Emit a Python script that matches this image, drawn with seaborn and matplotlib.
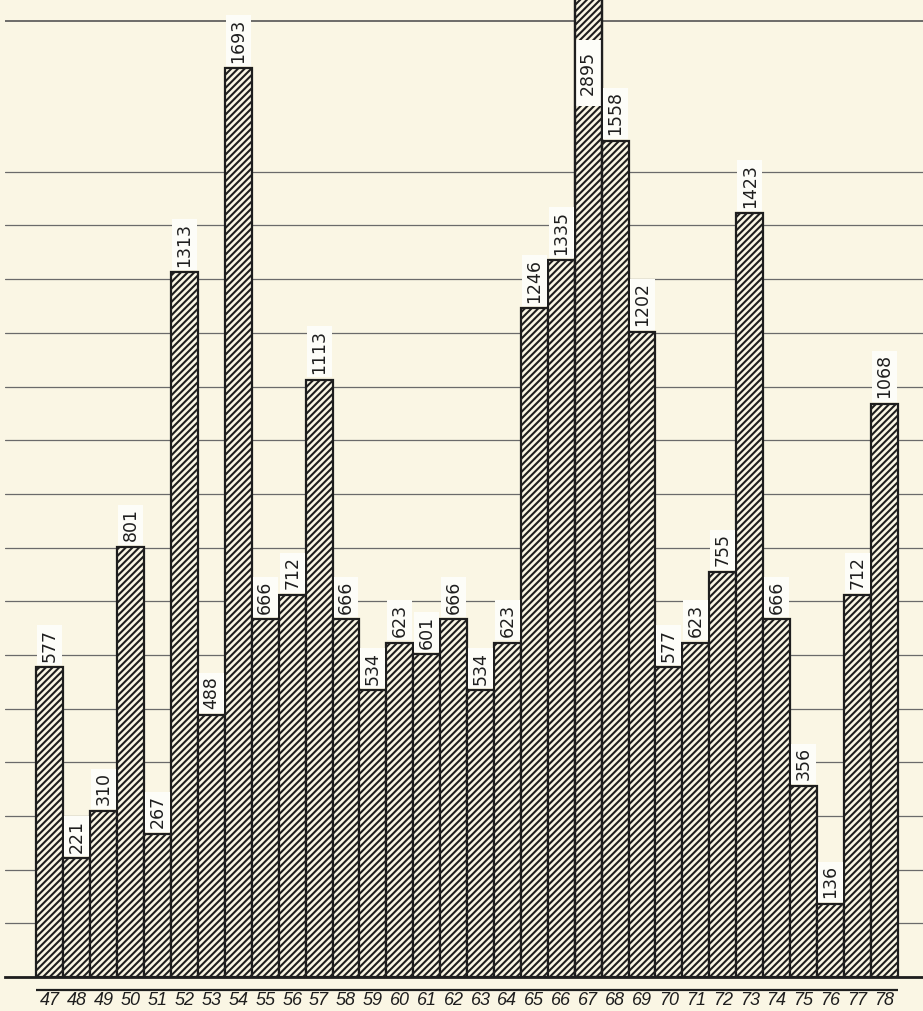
import numpy as np
import matplotlib.pyplot as plt
import seaborn as sns

# years (19xx) and yearly counts
years = ['47', '48', '49', '50', '51', '52', '53', '54', '55', '56', '57',
         '58', '59', '60', '61', '62', '63', '64', '65', '66', '67', '68',
         '69', '70', '71', '72', '73', '74', '75', '76', '77', '78']
counts = [577, 221, 310, 801, 267, 1313, 488, 1693, 666, 712, 1113,
          666, 534, 623, 601, 666, 534, 623, 1246, 1335, 2895, 1558,
          1202, 577, 623, 755, 1423, 666, 356, 136, 712, 1068]

paper = '#faf6e4'
ink = '#1e1e1e'

sns.set_theme(style='white')
plt.rcParams['font.family'] = ['DejaVu Sans']
plt.rcParams['hatch.linewidth'] = 1.5

fig = plt.figure(figsize=(9.23, 10.11), dpi=100, facecolor=paper)
ax = fig.add_axes([5 / 923, 34 / 1011, 918 / 923, 977 / 1011])
ax.set_facecolor(paper)

sns.barplot(x=years, y=counts, ax=ax, width=1.0, color=paper, saturation=1,
            edgecolor=ink, linewidth=1.6, hatch='/////', zorder=2)

ax.set_xlim(-1.67, 32.44)
ax.set_ylim(0, 1820)

# ruled lines every 100, plus the top rule
ax.set_yticks(np.arange(0, 1600, 100))
ax.set_yticklabels([])
ax.yaxis.grid(True, color='#6a6a6a', lw=0.9)
ax.xaxis.grid(False)
ax.set_axisbelow(True)
ax.axhline(1781, color='#555555', lw=1.2, zorder=1)

for s in ['top', 'left', 'right']:
    ax.spines[s].set_visible(False)
ax.spines['bottom'].set_color(ink)
ax.spines['bottom'].set_linewidth(2)

# value labels
top = ax.get_ylim()[1]
for i, v in enumerate(counts):
    if v < top:
        ax.annotate(str(v), (i, v), xytext=(0, 4), textcoords='offset points',
                    rotation=90, ha='center', va='bottom', fontsize=12.5,
                    color=ink, zorder=5,
                    bbox=dict(boxstyle='square,pad=0.2', fc='#fdfdf8', ec='none'))
    else:
        # broken bar: white gap with the label inside
        gap_lo, gap_hi = 1623, 1746
        ax.bar(i, gap_hi - gap_lo, bottom=gap_lo, width=1.0, color='#fdfdf8',
               edgecolor='none', zorder=3)
        ax.bar(i, v, width=1.0, fill=False, edgecolor=ink, linewidth=1.6, zorder=4)
        ax.text(i, (gap_lo + gap_hi) / 2, str(v), rotation=90, ha='center',
                va='center', fontsize=12.5, color=ink, zorder=5)

# second rule under the baseline
ax.hlines(-24, -0.5, len(years) - 0.5, colors=ink, lw=1.6, clip_on=False)

ax.tick_params(axis='x', length=0, pad=10.5)
ax.tick_params(axis='y', length=0)
for lab in ax.get_xticklabels():
    lab.set_family(['Liberation Sans', 'DejaVu Sans'])
    lab.set_fontstyle('italic')
    lab.set_fontsize(13)
    lab.set_color(ink)

ax.set_xlabel('')
ax.set_ylabel('')

fig.savefig('out.png', dpi=100, facecolor=paper)
